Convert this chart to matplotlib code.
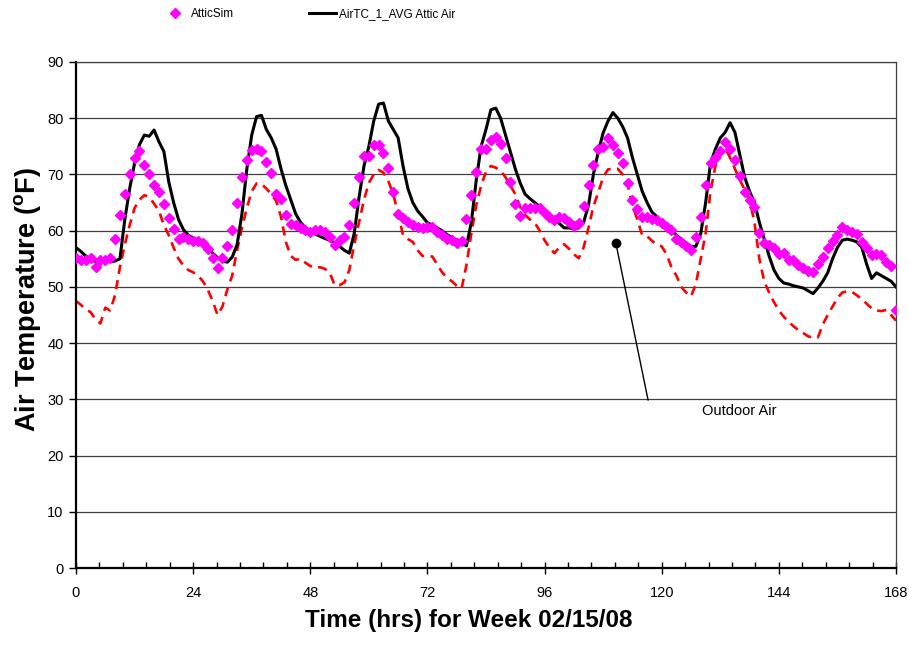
import numpy as np
import matplotlib
matplotlib.use("Agg")
import matplotlib.pyplot as plt
from matplotlib.ticker import MultipleLocator

plt.rcParams['font.family'] = ['Liberation Sans', 'DejaVu Sans']
plt.rcParams['mathtext.fontset'] = 'custom'
plt.rcParams['mathtext.rm'] = 'Liberation Sans:bold'
plt.rcParams['mathtext.bf'] = 'Liberation Sans:bold'

hours = np.arange(0, 169)

attic_sim = [
    55.1, 54.8, 54.8, 55.1, 53.6, 54.8, 54.8, 55.2, 58.5, 62.8,
    66.5, 70.0, 73.0, 74.1, 71.6, 70.1, 68.2, 66.9, 64.7, 62.3,
    60.3, 58.5, 58.8, 58.5, 58.2, 58.1, 57.8, 56.7, 55.1, 53.3,
    55.1, 57.3, 60.1, 64.9, 69.5, 72.5, 74.4, 74.5, 74.2, 72.3,
    70.2, 66.5, 65.6, 62.8, 61.1, 61.0, 60.5, 60.1, 59.7, 60.1,
    60.1, 59.7, 58.9, 57.5, 58.3, 58.9, 61.0, 65.0, 69.6, 73.3,
    73.3, 75.2, 75.2, 73.8, 71.1, 66.9, 62.9, 62.2, 61.5, 61.0,
    60.7, 60.4, 60.7, 60.6, 59.8, 59.2, 58.5, 58.4, 57.8, 58.2,
    62.1, 66.3, 70.5, 74.5, 74.5, 76.2, 76.7, 75.5, 72.9, 68.7,
    64.7, 62.6, 64.0, 64.0, 64.0, 64.0, 63.1, 62.5, 61.9, 62.5,
    62.2, 61.6, 60.8, 61.4, 64.4, 68.1, 71.7, 74.5, 74.9, 76.4,
    75.2, 73.8, 72.0, 68.5, 65.5, 63.8, 62.5, 62.4, 62.0, 61.9,
    61.4, 60.6, 60.1, 58.5, 57.9, 57.2, 56.6, 58.9, 62.4, 68.1,
    72.1, 72.9, 74.2, 75.7, 74.5, 72.6, 69.7, 66.9, 65.5, 64.2,
    59.5, 57.8, 57.5, 57.0, 55.9, 56.1, 54.8, 54.7, 53.9, 53.3,
    52.9, 52.7, 54.1, 55.4, 56.9, 58.2, 59.2, 60.7, 60.2, 59.8,
    59.4, 58.0, 56.9, 55.7, 55.8, 55.7, 54.5, 53.7, 45.9,
]

attic_air = [
    57.0, 56.3, 55.5, 55.0, 54.5, 54.8, 54.5, 54.5, 54.6, 55.0,
    62.0, 67.5, 72.0, 75.3, 77.0, 76.8, 77.9, 75.8, 74.1, 68.7,
    65.0, 62.0, 60.2, 59.2, 58.7, 58.3, 57.7, 57.0, 56.0, 55.2,
    54.6, 54.4, 55.3, 57.5, 63.0, 71.0, 77.0, 80.3, 80.5, 78.0,
    76.5, 74.5, 71.0, 68.0, 65.5, 63.0, 61.5, 60.5, 60.0, 59.4,
    59.0, 58.6, 58.3, 57.8, 57.2, 56.5, 56.0, 59.5, 66.0, 71.5,
    75.0, 79.5, 82.5, 82.7, 79.5, 78.0, 76.5, 71.5, 67.5, 65.0,
    63.5, 62.5, 61.4, 61.0, 60.5, 60.0, 59.3, 58.8, 58.3, 57.8,
    57.3, 61.5, 69.0, 75.0, 78.0, 81.5, 81.8, 80.0, 77.0, 74.0,
    71.0, 68.5, 66.5, 65.7, 65.0, 64.3, 63.7, 63.0, 62.0, 61.3,
    60.5, 60.5, 60.3, 60.5, 61.5, 64.5, 70.0, 74.0, 77.4, 79.5,
    81.0, 80.0, 78.5, 76.5, 73.0, 70.0, 67.0, 65.0, 63.3, 62.5,
    61.5, 60.7, 60.0, 59.2, 58.5, 57.8, 57.2, 57.2, 59.5, 65.0,
    72.0, 74.5, 76.5, 77.5, 79.2, 77.5, 73.5, 69.5, 67.0, 65.0,
    61.5, 58.5, 55.5, 53.0, 51.5, 50.7, 50.5, 50.2, 50.0, 49.8,
    49.3, 48.8, 49.8, 51.0, 52.5, 55.0, 57.0, 58.3, 58.5, 58.3,
    58.0, 57.0, 54.0, 51.5, 52.5, 52.0, 51.5, 51.0, 50.0,
]

outdoor_air = [
    47.5, 46.8, 46.0, 45.5, 44.2, 43.5, 46.3, 45.8, 48.5, 53.5,
    57.5, 61.0, 64.0, 65.5, 66.3, 66.0, 64.8, 63.5, 61.0, 59.2,
    57.0, 55.0, 53.8, 53.0, 52.6, 52.0, 51.0, 49.5, 47.5, 45.0,
    46.5, 49.5, 52.0, 56.5, 60.5, 64.0, 67.0, 68.4, 68.3, 67.5,
    66.5, 65.3, 62.5, 58.0, 55.5, 54.8, 55.0, 54.3, 53.7, 53.4,
    53.5, 53.2, 52.5, 50.3, 50.3, 50.8, 53.0, 57.5, 61.5, 65.5,
    68.5, 70.0, 70.8, 70.3, 68.8, 66.5, 63.0, 59.2, 58.5, 58.0,
    56.5, 55.5, 55.5, 55.4, 54.0, 52.6, 51.6, 51.0, 50.2, 49.7,
    53.9, 59.5, 64.5, 68.0, 70.5, 71.5, 71.2, 70.7, 69.5, 68.0,
    66.5, 64.2, 62.8, 62.0, 61.4, 60.0, 58.3, 57.0, 56.0, 57.0,
    57.6, 56.8, 55.8, 55.1, 57.0, 60.5, 64.3, 66.8, 69.5, 70.9,
    71.0, 71.0, 70.0, 68.3, 64.5, 62.0, 59.2, 59.0, 58.2, 57.5,
    57.2, 55.8, 53.5, 52.0, 50.0, 49.0, 48.3, 50.5, 55.0, 59.5,
    67.0, 71.5, 73.5, 74.7, 73.0, 71.0, 69.0, 67.3, 65.5, 61.5,
    55.0, 51.0, 49.0, 47.3, 45.8, 44.7, 43.8, 43.0, 42.3, 41.8,
    41.2, 41.0, 41.0, 43.3, 45.0, 46.5, 48.0, 49.0, 49.2, 49.1,
    48.5, 47.8, 47.0, 46.2, 45.8, 45.7, 45.9, 45.0, 44.0,
]

x_ticks = [0, 24, 48, 72, 96, 120, 144, 168]
y_ticks = list(range(0, 91, 10))

fig = plt.figure(figsize=(9.09, 6.61), dpi=100)
ax = fig.add_axes([76 / 909, 1 - 568 / 661, 820 / 909, 506 / 661])

ax.plot(hours, outdoor_air, color='#ff0000', lw=1.9,
        linestyle=(0, (3.5, 2.4)), zorder=2)
line_air, = ax.plot(hours, attic_air, color='black', lw=2.2, zorder=3,
                    label='AirTC_1_AVG Attic Air')
line_sim, = ax.plot(hours, attic_sim, linestyle='none', marker='D',
                    ms=5.2, color='#ff00ff', mec='#ff00ff', zorder=4,
                    label='AtticSim')

ax.set_xlim(0, 168)
ax.set_ylim(0, 90)
ax.set_xticks(x_ticks)
ax.set_yticks(y_ticks)
ax.xaxis.set_minor_locator(MultipleLocator(4.8))
ax.yaxis.grid(True, color='#404040', lw=0.9)
ax.set_axisbelow(True)
ax.tick_params(axis='y', which='major', direction='out', length=5,
               width=1, labelsize=10.5, pad=4)
ax.tick_params(axis='x', which='major', direction='inout', length=8,
               width=1, labelsize=10.5, pad=9)
ax.tick_params(axis='x', which='minor', direction='in', length=4, width=1)
for s in ['left', 'bottom']:
    ax.spines[s].set_linewidth(1.6)
ax.spines['top'].set_linewidth(0.9)
ax.spines['top'].set_color('#404040')
ax.spines['right'].set_linewidth(0.9)
ax.spines['right'].set_color('#404040')

# callout for outdoor air
ax.plot([110.6, 117.2], [57.8, 29.9], color='black', lw=1.0, zorder=5)
ax.plot([110.6], [57.8], marker='o', ms=6, color='black', zorder=5)
ax.text(135.8, 28.0, 'Outdoor Air', fontsize=10.5, ha='center', va='center')

fig.text(469 / 909, 1 - 621 / 661, 'Time (hrs) for Week 02/15/08',
         fontsize=17.5, fontweight='bold', ha='center', va='center')
fig.text(28 / 909, 1 - 300 / 661, r'Air Temperature ($\mathbf{^o}$F)',
         fontsize=19.5, fontweight='bold', ha='center', va='center',
         rotation=90)

fig.legend(handles=[line_sim, line_air], loc='center', ncol=2,
           frameon=False, fontsize=8.5, numpoints=1, handlelength=2.3,
           handletextpad=0.2, columnspacing=6.4,
           bbox_to_anchor=(308 / 909, 1 - 14 / 661))

fig.savefig('out.png', dpi=100)
